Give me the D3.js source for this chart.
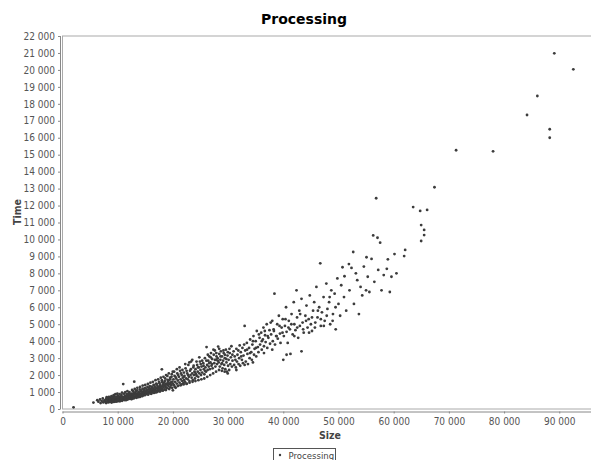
<!DOCTYPE html>
<html><head><meta charset="utf-8">
<script src="https://cdn.jsdelivr.net/npm/d3@7/dist/d3.min.js"></script>
<style>body{margin:0;background:#fff}svg{display:block}</style>
</head><body>
<svg id="chart" width="591" height="460"></svg>
<script>
const title="Processing", xLabel="Size", yLabel="Time", seriesName="Processing";
const xTicks=[0,10000,20000,30000,40000,50000,60000,70000,80000,90000];
const yTicks=[0,1000,2000,3000,4000,5000,6000,7000,8000,9000,10000,11000,12000,13000,14000,15000,16000,17000,18000,19000,20000,21000,22000];

// size < 12k
const ptsA=[[2000,100],[5600,380],[6300,520],[6500,430],[6800,560],[6900,350],[7100,470],[7300,620],[7400,390],[7600,510],[7700,440],[7900,580],[7900,350],[8000,700],
[8100,450],[8200,520],[8300,390],[8300,610],[8400,480],[8500,560],[8600,420],[8600,680],[8700,500],[8800,450],[8900,590],[8900,380],[9000,520],[9100,470],[9100,640],[9200,560],[9300,420],[9400,510],[9400,730],[9500,460],[9600,600],[9700,540],[9700,430],[9800,680],[9900,500],[9900,580],[10000,450],[10000,760],
[10100,540],[10200,620],[10200,480],[10300,700],[10400,560],[10400,450],[10500,650],[10600,510],[10700,590],[10700,820],[10800,480],[10900,640],[11000,560],[11000,1470],[11100,700],[11200,530],[11200,610],[11300,760],[11400,590],[11500,660],[11500,520],[11600,880],[11700,620],[11800,700],[11800,560],[11900,780],[12000,640],[12000,920],
[8150,640],[8420,720],[8630,590],[8870,760],[9050,680],[9270,810],[9430,620],[9580,870],[9760,720],[9940,900],[10130,780],[10350,880],[10560,740],[10780,960],[10950,700],[11150,900],[11380,1000],[11570,780],[11760,1050],[11930,870],[8060,420],[8540,470],[9160,550],[9630,480],[10070,560],[10640,600],[11290,650],[11830,690]];

// 12k - 20k
const ptsB=[[12100,600],[12200,710],[12200,830],[12300,650],[12400,760],[12500,580],[12500,900],[12600,690],[12700,800],[12800,640],[12800,1050],[12900,740],[13000,1610],[13000,680],[13100,860],[13200,720],[13200,960],[13300,780],[13400,660],[13500,900],[13500,1100],[13600,750],[13700,840],[13800,700],[13800,1000],[13900,880],[14000,780],[14000,1150],
[14100,720],[14200,900],[14200,1040],[14300,800],[14400,950],[14500,760],[14500,1200],[14600,880],[14700,1000],[14800,820],[14800,1100],[14900,930],[15000,860],[15000,1250],[15100,1000],[15200,900],[15300,1080],[15400,950],[15400,1300],[15500,870],[15600,1020],[15700,1150],[15800,960],[15800,1350],[15900,1060],[16000,1000],[16000,1200],
[16100,920],[16200,1100],[16300,1250],[16400,1000],[16500,1150],[16500,1420],[16600,1050],[16700,1300],[16800,1120],[16900,980],[17000,1220],[17000,1500],[17100,1080],[17200,1350],[17300,1180],[17400,1050],[17500,1280],[17500,1600],[17600,1150],[17700,1400],[17800,1220],[17900,1100],[18000,2340],[18000,1320],[18000,1700],
[18100,1180],[18200,1450],[18300,1280],[18400,1550],[18500,1150],[18500,1380],[18600,1800],[18700,1300],[18800,1500],[18900,1230],[19000,1420],[19000,1950],[19100,1600],[19200,1350],[19300,1700],[19400,1480],[19500,1280],[19500,1850],[19600,1550],[19700,1400],[19800,2050],[19900,1620],[20000,1500],[20000,1100],
[12130,1000],[12370,880],[12610,1120],[12880,930],[13090,1180],[13330,1050],[13560,1250],[13790,960],[14050,1300],[14270,1100],[14530,1380],[14760,1180],[14990,1420],[15240,1150],[15470,1480],[15690,1250],[15930,1550],[16150,1320],[16380,1600],[16620,1400],[16850,1700],[17080,1450],[17330,1750],[17570,1520],[17810,1850],[18060,1580],[18290,1900],[18530,1650],[18770,2000],[19020,1720],[19260,2100],[19510,1760],[19750,1900],[19980,2200],
[12450,600],[12930,630],[13470,700],[13980,740],[14430,780],[14970,820],[15520,850],[16060,900],[16570,950],[17120,1000],[17660,1030],[18180,1080],[18730,1120],[19330,1180],[19870,1250],
[12750,860],[13280,820],[13850,920],[14380,1000],[14880,1050],[15350,1120],[15850,1150],[16350,1180],[16780,1250],[17280,1300],[17730,1320],[18250,1400],[18680,1450],[19180,1500],[19620,1560]];

// 20k - 30k
const ptsC=[[20100,1750],[20200,1400],[20300,1950],[20400,1600],[20500,1250],[20600,1800],[20700,1500],[20800,2100],[20900,1680],[21000,1380],[21100,1900],[21200,1560],[21300,2250],[21400,1750],[21500,1450],[21600,2000],[21700,1650],[21800,1850],[21900,1520],[22000,2150],[22000,1700],
[22100,1950],[22200,1600],[22300,2400],[22400,1800],[22500,1500],[22600,2100],[22700,1750],[22800,2600],[22900,1900],[23000,1650],[23100,2250],[23200,2000],[23300,2800],[23400,1850],[23500,2100],[23600,1700],[23700,2450],[23800,2000],[23900,2200],[24000,1800],
[24100,2350],[24200,2050],[24300,1950],[24400,2600],[24500,2200],[24600,1900],[24700,2450],[24800,2100],[24900,2800],[25000,2300],[25100,2000],[25200,2500],[25300,2150],[25500,2700],[25600,2350],[25700,2050],[25800,3000],[25900,2450],[26000,2200],
[26100,3650],[26200,2600],[26300,2300],[26400,2850],[26500,2500],[26600,3100],[26700,2350],[26800,2750],[26900,3300],[27000,2550],[27100,2950],[27200,2400],[27400,3200],[27500,2700],[27600,3450],[27700,2500],[27800,2900],[27900,3100],[28000,2650],
[28100,3000],[28200,3680],[28300,2750],[28400,3250],[28500,2500],[28600,2900],[28700,3400],[28800,2650],[28900,3100],[29000,2400],[29100,2850],[29200,3300],[29300,2600],[29400,3000],[29500,2350],[29600,3500],[29700,2750],[29800,2200],[29900,3150],[30000,2550],
[20230,2200],[20470,1900],[20720,2350],[20960,2000],[21210,2450],[21470,2100],[21730,2300],[21980,1900],[22240,2650],[22490,2250],[22740,2000],[22990,2750],[23250,2350],[23510,2900],[23760,2550],[24020,2150],[24280,2800],[24540,2450],[24790,3050],[25040,2650],[25310,2850],[25560,2550],[25820,2250],[26070,2850],[26330,3200],[26590,2700],[26840,3050],[27090,2650],[27350,3500],[27610,2900],[27870,3300],[28130,2850],[28390,3550],[28640,3100],[28900,2700],[29160,3450],[29420,3200],[29680,2950],[29940,3350],
[20350,1300],[20880,1350],[21420,1400],[21940,1450],[22480,1480],[23020,1550],[23560,1600],[24080,1650],[24620,1700],[25160,1750],[25680,1800],[26220,1900],[26760,2000],[27290,2100],[27820,2200],[28360,2300],[28870,2250],[29380,2200],[29930,2100]];

// 30k - 50k
const ptsD=[[30100,2900],[30200,2300],[30300,3300],[30400,2650],[30500,3050],[30600,3700],[30700,2500],[30800,2850],[31000,3400],[31100,2600],[31200,3100],[31400,2450],[31500,3550],[31600,2800],[31700,3200],[31900,2650],[32000,3000],
[32100,3750],[32200,2550],[32300,3350],[32500,2900],[32600,3600],[32700,2700],[32800,3150],[33000,4900],[33100,3450],[33200,2800],[33400,3900],[33500,3250],[33600,2650],[33800,3600],[33900,3000],[34000,4100],
[34200,3350],[34300,2900],[34400,3800],[34600,4300],[34700,3200],[34800,3550],[35000,4000],[35100,3100],[35200,4600],[35400,3650],[35500,3350],[35700,4200],[35800,3800],[36000,4500],
[36100,3500],[36300,4100],[36400,4800],[36500,3700],[36700,4350],[36800,3950],[37000,5000],[37100,3600],[37300,4200],[37500,4650],[37600,3850],[37800,4400],[38000,5200],
[38100,4000],[38300,4600],[38400,6800],[38500,3800],[38700,4300],[38900,5000],[39000,4150],[39200,5500],[39400,4450],[39500,3900],[39700,4800],[39900,5300],[40000,2900],
[40100,4300],[40300,4900],[40500,6000],[40600,4550],[40800,3900],[41000,5200],[41200,4700],[41300,3250],[41500,5600],[41700,4400],[41900,6300],[42000,5000],
[42200,4650],[42400,7000],[42500,5400],[42700,4200],[42900,5800],[43000,4900],[43300,6500],[43500,5100],[43700,4500],[44000,5500],
[44200,6100],[44400,4800],[44600,5300],[44800,6700],[45000,5000],[45200,4600],[45400,5800],[45600,6300],[45800,5100],[46000,7200],
[46200,5400],[46500,6000],[46700,8590],[46800,4900],[47000,5700],[47300,6600],[47500,5200],[47800,7400],[48000,5900],
[48300,6300],[48500,5000],[48700,7000],[49000,5600],[49300,6800],[49500,4700],[49800,7700],[50000,6200],
[30250,3550],[30780,3200],[31320,2900],[31850,3450],[32380,3100],[32910,3800],[33440,3500],[33970,3300],[34510,4000],[35040,3600],[35580,4400],[36110,4000],[36650,4600],[37180,4300],[37720,5100],[38250,4700],[38790,4300],[39320,4900],[39860,4500],[40390,5300],[40930,4800],[41460,5000],[42000,4300],[42530,4800],[43060,5600],[43600,4700],[44130,5200],[44670,4500],[45200,5400],[45730,4800],[46270,5800],[46800,5300],[47340,4900],[47870,5500],[48400,6600],[48940,5200],[49470,6000],
[31500,2300],[33000,2600],[34500,2750],[36500,3300],[38000,3500],[40600,3200],[43300,3400]];

// 50k and above
const ptsE=[[50300,5500],[50500,7300],[50730,8360],[51000,6600],[51090,7830],[51400,5800],[51890,8550],[52000,7000],[52360,8320],[52670,9260],[52800,6200],[53150,8000],[53400,7600],[53700,5600],[54000,7200],[54300,6700],[54600,8400],[55080,8950],[55000,7000],
[55300,7800],[55600,6900],[55990,8850],[56290,10240],[56500,7500],[56830,12430],[57070,10100],[57200,8200],[57550,9810],[57800,7000],[58200,7900],[58760,8270],[58950,8830],[59300,6900],[59600,7800],[60150,9140],[60500,8000],
[61900,9020],[62080,9380],[63530,11910],[64800,11680],[64980,10850],[64980,9910],[65520,10560],[65520,10260],[66060,11740],[67390,13080],[71310,15260],[78010,15200],[84160,17340],[86030,18460],[88270,16500],[88270,16000],[89100,20980],[92550,20035]];

const points=[...ptsA,...ptsB,...ptsC,...ptsD,...ptsE];

const svg=d3.select("#chart");
const font="'DejaVu Sans Condensed','DejaVu Sans',sans-serif";
const p={left:62.5,right:591,top:36,bottom:409};
const x=d3.scaleLinear().domain([0,95750]).range([p.left,p.right]);
const y=d3.scaleLinear().domain([0,22000]).range([p.bottom,p.top]);
const fmt=d3.formatLocale({decimal:".",thousands:" ",grouping:[3],currency:["",""]}).format(",d");

// plot outline
svg.append("rect").attr("x",p.left).attr("y",p.top).attr("width",p.right-p.left+2).attr("height",p.bottom-p.top)
  .attr("fill","none").attr("stroke","#aaa").attr("stroke-width",1);

// y axis
const gy=svg.append("g").attr("transform","translate(60,0)")
  .call(d3.axisLeft(y).tickValues(yTicks).tickFormat(fmt).tickSize(2).tickPadding(3));
gy.select(".domain").attr("stroke","#888").attr("d",`M0.5,${p.top}V${p.bottom}`);
gy.selectAll(".tick line").attr("stroke","#888").attr("x1",0.5).attr("x2",-2);
gy.selectAll("text").attr("font-family",font).attr("font-size",10).attr("fill","#555");

// x axis
const gx=svg.append("g").attr("transform","translate(0,411.5)")
  .call(d3.axisBottom(x).tickValues(xTicks).tickFormat(fmt).tickSize(2).tickPadding(4));
gx.select(".domain").attr("stroke","#888").attr("d",`M${p.left},0.5H${p.right+2}`);
gx.selectAll(".tick line").attr("stroke","#888");
gx.selectAll("text").attr("font-family",font).attr("font-size",10).attr("fill","#555");

// points
svg.append("g").selectAll("circle").data(points).enter().append("circle")
  .attr("cx",d=>x(d[0])).attr("cy",d=>y(d[1])).attr("r",1.4).attr("fill","#3c3c3c");

// title and labels
svg.append("text").attr("x",304).attr("y",24).attr("text-anchor","middle")
  .attr("font-family","'DejaVu Sans',sans-serif").attr("font-weight","bold").attr("font-size",14).attr("fill","#000").text(title);
svg.append("text").attr("x",330).attr("y",439).attr("text-anchor","middle")
  .attr("font-family",font).attr("font-weight","bold").attr("font-size",10.5).attr("fill","#444").text(xLabel);
svg.append("text").attr("transform","translate(20.5,212) rotate(-90)").attr("text-anchor","middle")
  .attr("font-family",font).attr("font-weight","bold").attr("font-size",10.5).attr("fill","#444").text(yLabel);

// legend
const lg=svg.append("g");
lg.append("rect").attr("x",273.5).attr("y",448.5).attr("width",62).attr("height",20).attr("fill","#fff").attr("stroke","#555");
lg.append("circle").attr("cx",280).attr("cy",455).attr("r",1.2).attr("fill","#3c3c3c");
lg.append("text").attr("x",288.5).attr("y",459).attr("font-family",font).attr("font-size",9.5).attr("fill","#444").text(seriesName);
</script>
</body></html>
